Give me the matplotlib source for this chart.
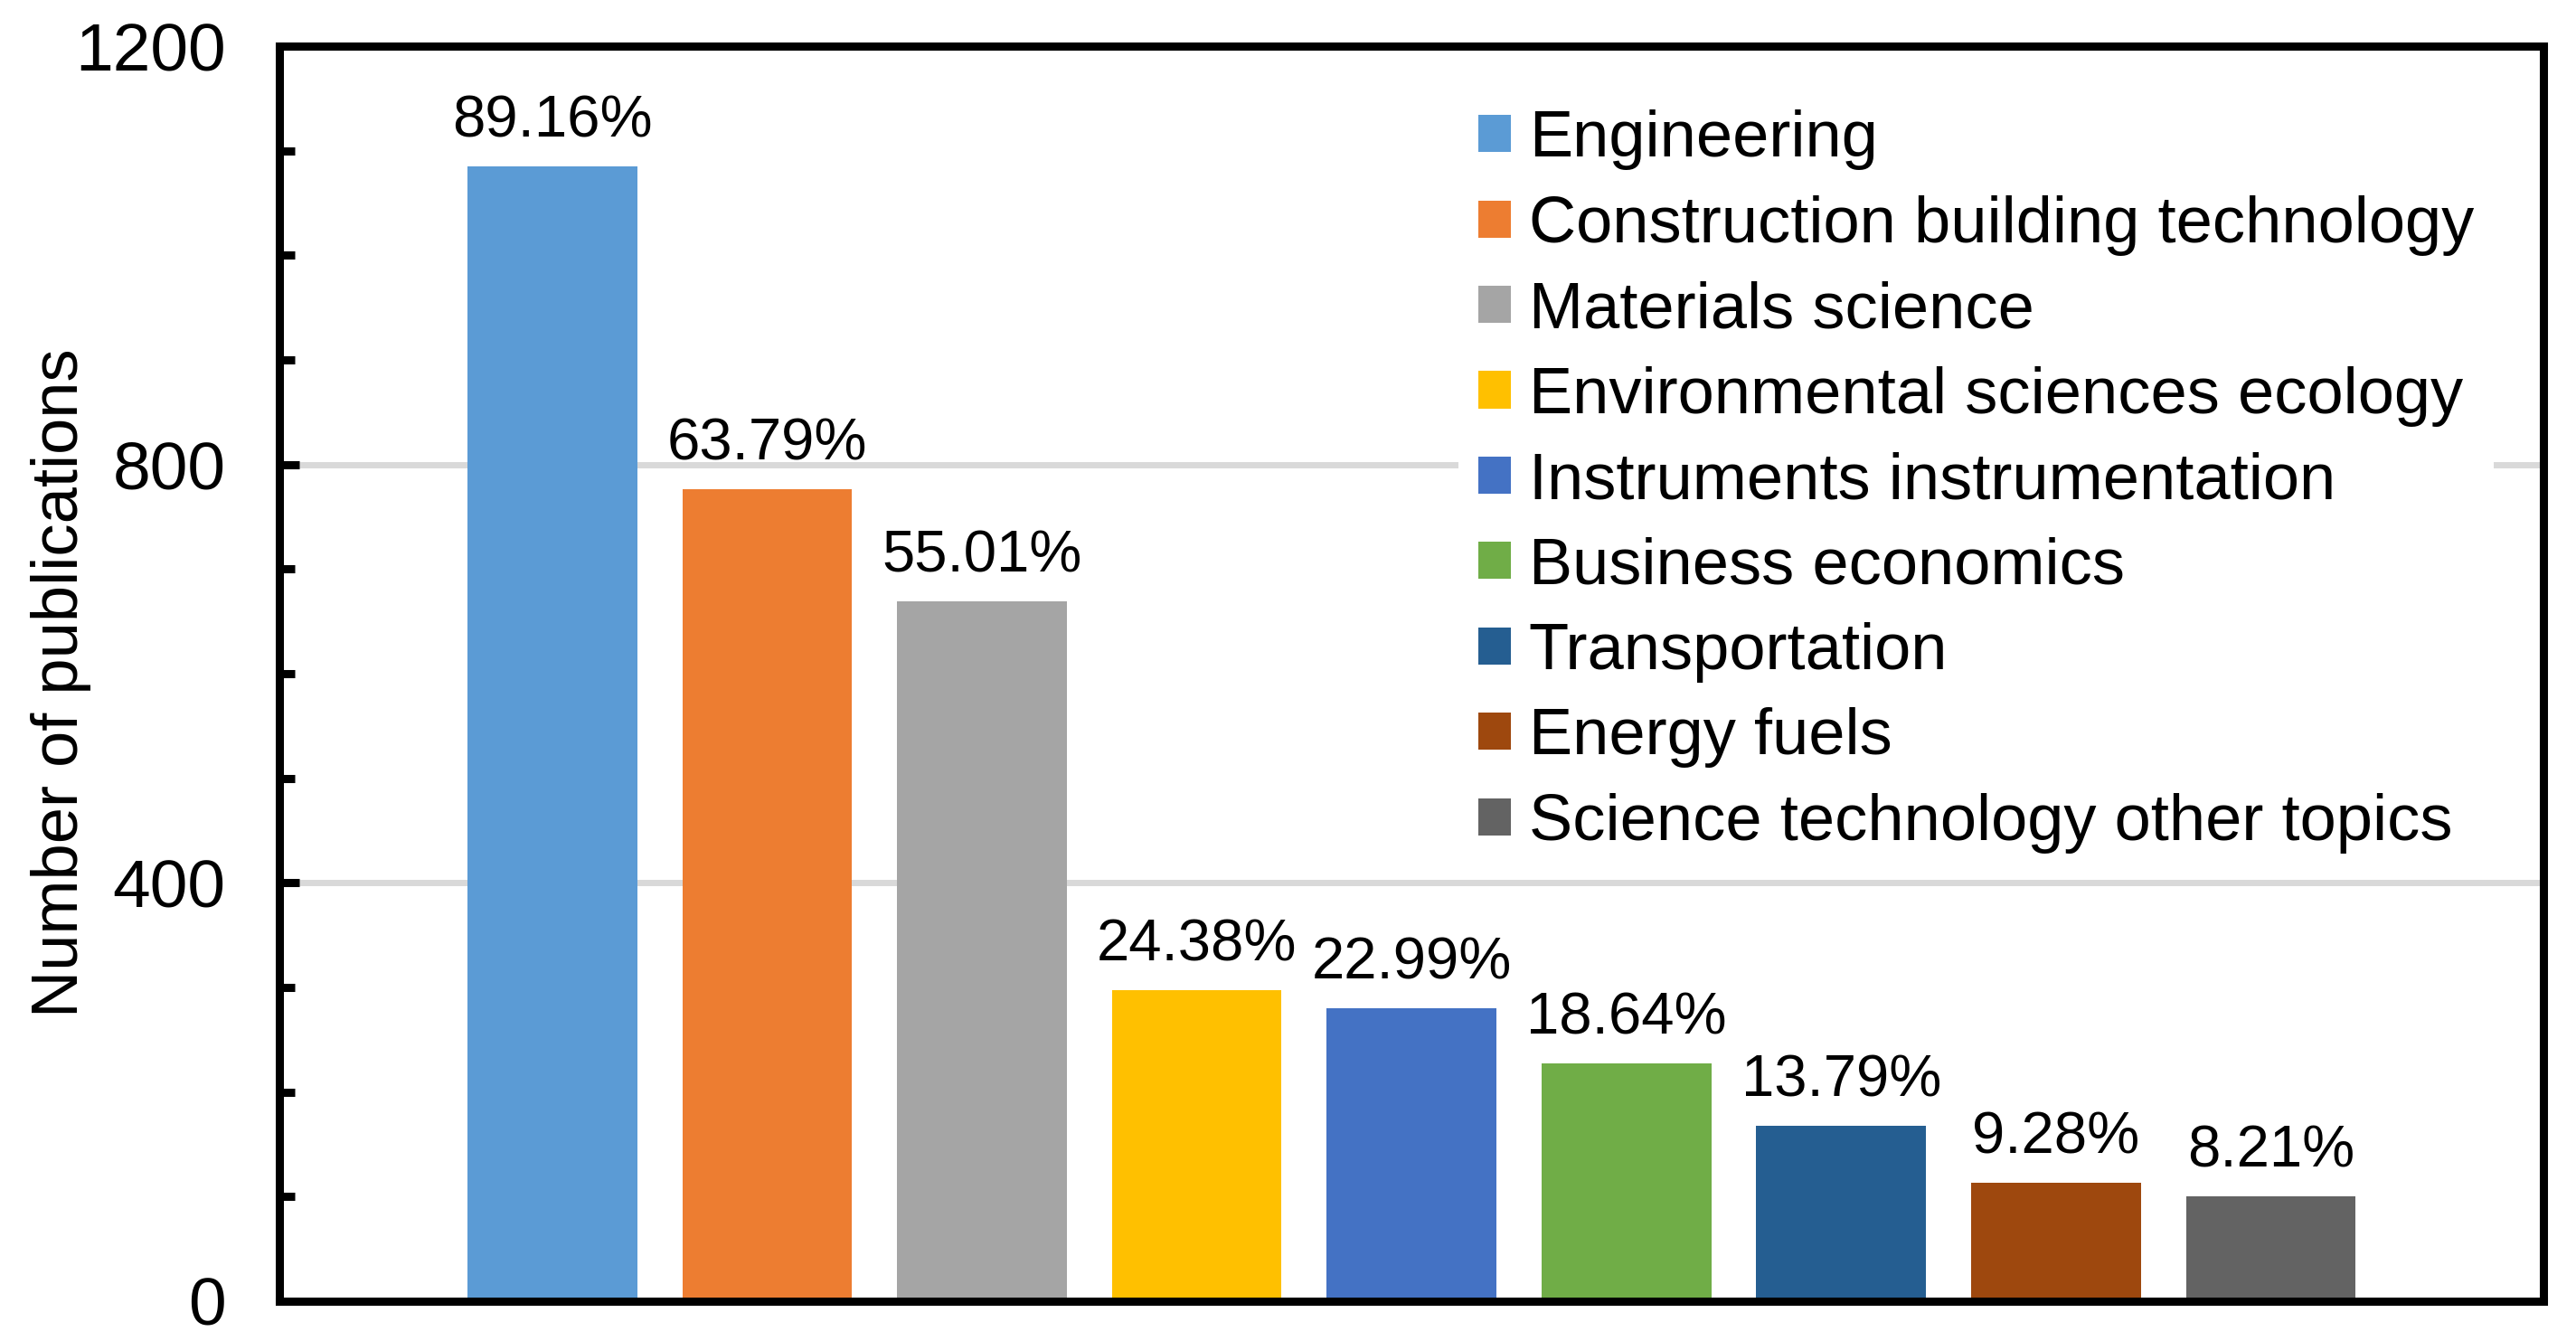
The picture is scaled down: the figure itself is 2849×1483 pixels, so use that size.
import matplotlib.pyplot as plt
from matplotlib.ticker import MultipleLocator
from matplotlib.patches import Patch

plt.rcParams["font.family"] = ["Liberation Sans", "DejaVu Sans"]

categories = [
    "Engineering",
    "Construction building technology",
    "Materials science",
    "Environmental sciences ecology",
    "Instruments instrumentation",
    "Business economics",
    "Transportation",
    "Energy fuels",
    "Science technology other topics",
]
counts = [1085, 776, 669, 297, 280, 227, 168, 113, 100]
shares = ["89.16%", "63.79%", "55.01%", "24.38%", "22.99%", "18.64%", "13.79%", "9.28%", "8.21%"]
colors = ["#5B9BD5", "#ED7D31", "#A5A5A5", "#FFC000", "#4472C4",
          "#70AD47", "#255E91", "#9E480E", "#636363"]

fig = plt.figure(figsize=(28.49, 14.83), dpi=100)
ax = fig.add_axes([0.1085, 0.0297, 0.8789, 0.9359])

x = list(range(len(categories)))
bars = ax.bar(x, counts, width=0.79, color=colors, zorder=2)

for b, s in zip(bars, shares):
    ax.annotate(s, (b.get_x() + b.get_width() / 2, b.get_height()),
                xytext=(0, 14), textcoords="offset points",
                ha="center", va="bottom", fontsize=47)

ax.set_xlim(-1.27, len(categories) - 1 + 1.27)
ax.set_ylim(0, 1200)
ax.yaxis.set_major_locator(MultipleLocator(400))
ax.yaxis.set_minor_locator(MultipleLocator(100))
ax.set_xticks([])
ax.grid(axis="y", which="major", color="#d9d9d9", linewidth=5, zorder=0)
ax.set_axisbelow(True)

for sp in ax.spines.values():
    sp.set_linewidth(6.5)
ax.tick_params(axis="y", which="major", direction="in", length=15.5, width=6.5,
               labelsize=54, pad=43)
ax.tick_params(axis="y", which="minor", direction="in", length=12.5, width=6.5)
ax.set_ylabel("Number of publications", fontsize=52)
ax.yaxis.set_label_coords(-0.083, 0.493)

handles = [Patch(facecolor=c, edgecolor="none") for c in colors]
leg = ax.legend(handles, categories, loc="upper left", bbox_to_anchor=(0.5065, 0.991),
                fontsize=52, frameon=True, facecolor="white", edgecolor="none",
                framealpha=1, handlelength=0.5, handleheight=0.5, handletextpad=0.27,
                labelspacing=0.38, borderpad=0.3)
leg.set_zorder(3)

fig.savefig("out.png", dpi=100)
